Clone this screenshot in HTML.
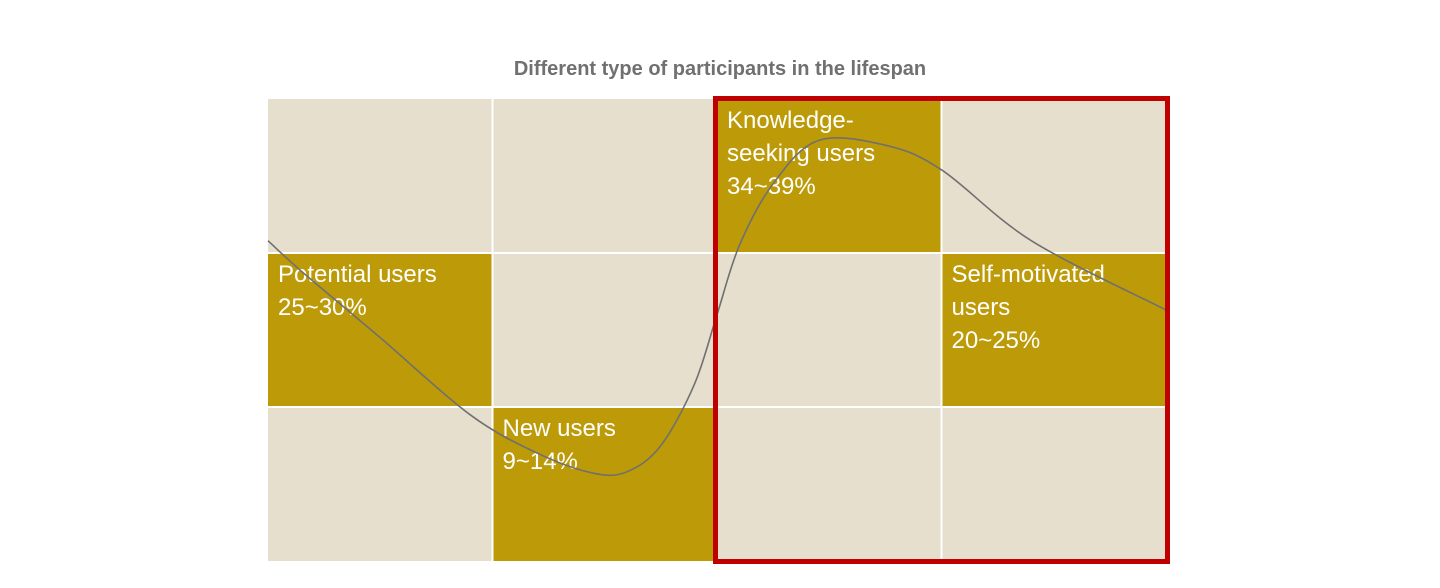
<!DOCTYPE html>
<html><head><meta charset="utf-8"><style>
html,body{margin:0;padding:0;background:#fff;width:1440px;height:588px;overflow:hidden}
svg{display:block;font-family:"Liberation Sans",Arial,sans-serif}
</style></head><body>
<svg id="chart" width="1440" height="588" viewBox="0 0 1440 588" xmlns="http://www.w3.org/2000/svg">
<text x="720" y="75" text-anchor="middle" font-size="20" font-weight="bold" fill="#707070">Different type of participants in the lifespan</text>
<g id="cells"></g>
<g id="labels"></g>
<path id="curve" fill="none" stroke="#707070" stroke-width="1.6"/>
<rect x="715.5" y="98.5" width="452" height="463" fill="none" stroke="#c00000" stroke-width="5"/>
</svg>
<script>
// stage columns (0..3), rows (0..2)
const stages = ["Potential users","New users","Knowledge-seeking users","Self-motivated users"];
const stageRows = [1, 2, 0, 1];
const stageLines = [["Potential users","25~30%"],["New users","9~14%"],["Knowledge-","seeking users","34~39%"],["Self-motivated","users","20~25%"]];
// curve in grid units: x in columns (0..4), y in rows (0..3 from top)
const curveX = [0, 0.15, 0.5, 0.9, 1.2, 1.45, 1.6, 1.75, 1.9, 2.0, 2.1, 2.25, 2.45, 2.75, 3.0, 3.4, 4.0];
const curveY = [0.92, 1.12, 1.55, 2.05, 2.3, 2.43, 2.42, 2.25, 1.85, 1.4, 0.95, 0.55, 0.27, 0.3, 0.46, 0.92, 1.37];

const X0 = 268, CW = 224.5, Y0 = 99, RH = 154;
const xs = c => X0 + c*CW;
const ys = r => Y0 + r*RH;
const NS = "http://www.w3.org/2000/svg";
const cells = document.getElementById('cells');
const labels = document.getElementById('labels');
for (let c=0;c<4;c++){
  for (let r=0;r<3;r++){
    const el = document.createElementNS(NS,'rect');
    
    
    el.setAttribute('x', xs(c)+ (c?1:0));
    el.setAttribute('y', ys(r)+ (r?1:0));
    el.setAttribute('width', CW - (c?1:0) - (c<3?1:0));
    el.setAttribute('height', RH - (r?1:0) - (r<2?1:0));
    el.setAttribute('fill', stageRows[c]===r ? '#bc9a08' : '#e6dfcd');
    cells.appendChild(el);
  }
  const t = document.createElementNS(NS,'text');
  
  
  t.setAttribute('font-size','24');
  t.setAttribute('fill','#fff');
  stageLines[c].forEach((line,i)=>{
    const ts = document.createElementNS(NS,'tspan');
    ts.setAttribute('x', xs(c)+10);
    ts.setAttribute('y', ys(stageRows[c]) + 29 + i*33);
    ts.textContent = line;
    t.appendChild(ts);
  });
  labels.appendChild(t);
}
// Catmull-Rom smooth path
const pts = curveX.map((x,i)=>[xs(x), ys(curveY[i])]);
let d = `M${pts[0][0]},${pts[0][1]}`;
for (let i=0;i<pts.length-1;i++){
  const p0=pts[Math.max(0,i-1)], p1=pts[i], p2=pts[i+1], p3=pts[Math.min(pts.length-1,i+2)];
  const c1=[p1[0]+(p2[0]-p0[0])/6, p1[1]+(p2[1]-p0[1])/6];
  const c2=[p2[0]-(p3[0]-p1[0])/6, p2[1]-(p3[1]-p1[1])/6];
  d += ` C${c1[0]},${c1[1]} ${c2[0]},${c2[1]} ${p2[0]},${p2[1]}`;
}
document.getElementById('curve').setAttribute('d', d);
</script>
</body></html>
